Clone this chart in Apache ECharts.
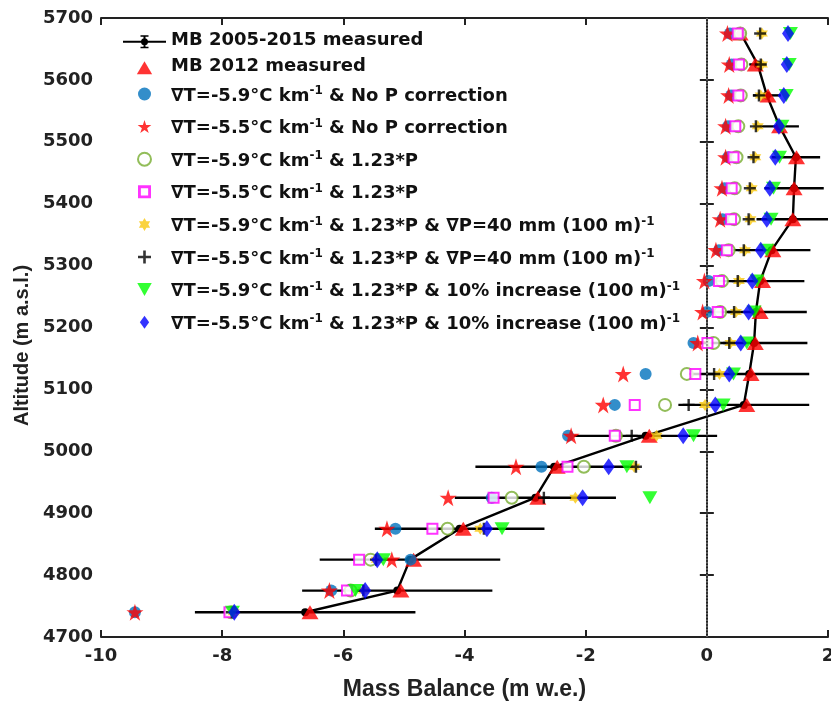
<!DOCTYPE html>
<html>
<head>
<meta charset="utf-8">
<title>Mass balance profile</title>
<script src="https://cdn.jsdelivr.net/npm/echarts@6/dist/echarts.min.js"></script>
<style>
  html, body { margin: 0; padding: 0; background: #fff; }
  #chart { width: 831px; height: 704px; }
</style>
</head>
<body>
<div id="chart"></div>
<script>
// altitude bands (m a.s.l.)
var altitude = [4740, 4775, 4825, 4875, 4925, 4975, 5025, 5075, 5125, 5175,
                5225, 5275, 5325, 5375, 5425, 5475, 5525, 5575, 5625, 5675];

// measured mass balance 2005-2015, mean and error (m w.e.)
var mbMean = [-6.63, -5.11, -4.90, -4.08, -2.83, -2.52, -1.01, 0.61, 0.70, 0.78,
              0.81, 0.88, 1.07, 1.42, 1.44, 1.47, 1.20, 0.99, 0.84, 0.56];
var mbErr = [1.82, 1.57, 1.49, 1.40, 1.33, 1.30, 1.18, 1.08, 0.99, 0.88,
             0.84, 0.73, 0.64, 0.60, 0.49, 0.40, 0.32, 0.23, 0.14, 0.08];

// measured 2012
var mb2012 = [-6.55, -5.05, -4.84, -4.02, -2.79, -2.47, -0.95, 0.66, 0.73, 0.80,
              0.88, 0.92, 1.09, 1.42, 1.44, 1.48, 1.20, 1.01, 0.80, 0.55];

// modelled runs
var t59NoP = [-9.44, -6.20, -4.89, -5.14, -3.55, -2.73, -2.29, -1.52, -1.01, -0.22,
              0.00, 0.03, 0.20, 0.26, 0.29, 0.35, 0.35, 0.40, 0.41, 0.38];
var t55NoP = [-9.44, -6.23, -5.20, -5.28, -4.27, -3.15, -2.24, -1.71, -1.38, -0.15,
              -0.07, -0.04, 0.15, 0.22, 0.25, 0.31, 0.31, 0.36, 0.37, 0.34];
var t59P = [-7.85, -5.88, -5.55, -4.28, -3.22, -2.03, -1.50, -0.69, -0.33, 0.11,
            0.22, 0.25, 0.36, 0.45, 0.46, 0.49, 0.52, 0.56, 0.57, 0.55];
var t55P = [-7.88, -5.94, -5.74, -4.53, -3.52, -2.30, -1.52, -1.19, -0.19, 0.01,
            0.18, 0.20, 0.33, 0.40, 0.41, 0.44, 0.47, 0.52, 0.53, 0.51];
var t59Grad = [-7.81, -5.66, -5.45, -3.74, -2.17, -1.20, -0.83, -0.03, 0.21, 0.39,
               0.48, 0.53, 0.63, 0.72, 0.74, 0.80, 0.84, 0.89, 0.91, 0.91];
var t55Grad = [-7.84, -5.67, -5.46, -3.68, -2.69, -1.17, -1.24, -0.30, 0.12, 0.37,
               0.45, 0.51, 0.61, 0.69, 0.71, 0.77, 0.81, 0.86, 0.89, 0.88];
var t59Inc = [-7.83, -5.80, -5.34, -3.38, -0.94, -1.32, -0.22, 0.27, 0.44, 0.66,
              0.78, 0.83, 0.99, 1.06, 1.10, 1.20, 1.24, 1.31, 1.36, 1.38];
var t55Inc = [-7.80, -5.64, -5.44, -3.63, -2.05, -1.62, -0.39, 0.14, 0.37, 0.56,
              0.69, 0.75, 0.89, 0.99, 1.04, 1.13, 1.19, 1.27, 1.32, 1.34];

// axis ticks
var xTicks = [-10, -8, -6, -4, -2, 0, 2];
var yTicks = [4700, 4800, 4900, 5000, 5100, 5200, 5300, 5400, 5500, 5600, 5700];

var names = [
  'MB 2005-2015 measured',
  'MB 2012 measured',
  '∇T=-5.9°C km⁻¹ & No P correction',
  '∇T=-5.5°C km⁻¹ & No P correction',
  '∇T=-5.9°C km⁻¹ & 1.23*P',
  '∇T=-5.5°C km⁻¹ & 1.23*P',
  '∇T=-5.9°C km⁻¹ & 1.23*P & ∇P=40 mm (100 m)⁻¹',
  '∇T=-5.5°C km⁻¹ & 1.23*P & ∇P=40 mm (100 m)⁻¹',
  '∇T=-5.9°C km⁻¹ & 1.23*P & 10% increase (100 m)⁻¹',
  '∇T=-5.5°C km⁻¹ & 1.23*P & 10% increase (100 m)⁻¹'
];

(function (window, doc) {

  var FONT = 'DejaVu Sans';

  // marker shapes
  var STAR = 'path://M10 0 L12.245 6.91 L19.511 6.91 L13.633 11.18 L15.878 18.09 L10 13.82 L4.122 18.09 L6.367 11.18 L0.489 6.91 L7.755 6.91 Z';
  var HEXA = 'path://M10 0 L12.887 5 L18.66 5 L15.77 10 L18.66 15 L12.887 15 L10 20 L7.113 15 L1.34 15 L4.23 10 L1.34 5 L7.113 5 Z';
  var PLUS = 'path://M4 0 H6 V4 H10 V6 H6 V10 H4 V6 H0 V4 H4 Z';
  var DOWN = 'path://M0 0 L10 0 L5 9 Z';
  // legend-only icons (paths keep their aspect in the legend box)
  var UP = 'path://M5 0 L10 8.5 L0 8.5 Z';
  var BOX = 'path://M0 0 H10 V10 H0 Z M2.2 2.2 V7.8 H7.8 V2.2 Z';
  var DIAM = 'path://M5 0 L10 7 L5 14 L0 7 Z';
  // legend icon: line + dot + vertical error bar
  var EBAR = 'path://M0 5.5 H43 V7.5 H0 Z M20.5 0 H22.5 V13 H20.5 Z M17.5 0 H25.5 V1.5 H17.5 Z M17.5 11.5 H25.5 V13 H17.5 Z M25 6.5 A3.5 3.5 0 1 1 18 6.5 A3.5 3.5 0 1 1 25 6.5 Z';

  function pairs(xs) {
    return xs.map(function (v, i) { return [v, altitude[i]]; });
  }

  function richName(name) {
    var parts = name.split('⁻¹');
    if (parts.length === 1) return '{p|' + name + '}';
    return parts.map(function (s) { return s ? '{t|' + s + '}' : ''; }).join('{sup|-1}');
  }

  function scatter(name, data, symbol, size, color, extra) {
    var s = {
      name: name,
      type: 'scatter',
      data: pairs(data),
      symbol: symbol,
      symbolSize: size,
      itemStyle: { color: color },
      z: 3
    };
    if (extra) {
      for (var k in extra) s.itemStyle[k] = extra[k];
    }
    return s;
  }

  var errData = altitude.map(function (a, i) {
    return [mbMean[i] - mbErr[i], mbMean[i] + mbErr[i], a];
  });

  var axisLine = { show: true, lineStyle: { color: '#222', width: 2 } };
  var axisTick = { show: true, inside: true, length: 7, lineStyle: { color: '#222', width: 2 } };
  var tickLabel = {
    color: '#222', fontFamily: FONT, fontWeight: 'bold', fontSize: 18,
    formatter: function (v) { return String(v); }
  };

  var chart = echarts.init(doc.getElementById('chart'));

  chart.setOption({
    animation: false,
    backgroundColor: '#fff',
    grid: { left: 101, right: 3, top: 18, bottom: 67, outerBoundsMode: 'none' },
    xAxis: [{
      type: 'value',
      min: xTicks[0],
      max: xTicks[xTicks.length - 1],
      interval: xTicks[1] - xTicks[0],
      name: 'Mass Balance (m w.e.)',
      nameLocation: 'middle',
      nameGap: 41,
      nameTextStyle: { color: '#222', fontFamily: 'Liberation Sans', fontWeight: 'bold', fontSize: 23 },
      axisLine: axisLine,
      axisTick: axisTick,
      axisLabel: Object.assign({ margin: 10 }, tickLabel),
      splitLine: { show: false }
    }, {
      type: 'value',
      position: 'top',
      min: xTicks[0],
      max: xTicks[xTicks.length - 1],
      interval: xTicks[1] - xTicks[0],
      axisLine: axisLine,
      axisTick: axisTick,
      axisLabel: { show: false },
      splitLine: { show: false }
    }],
    yAxis: [{
      type: 'value',
      min: yTicks[0],
      max: yTicks[yTicks.length - 1],
      interval: yTicks[1] - yTicks[0],
      name: 'Altitude (m a.s.l.)',
      nameLocation: 'middle',
      nameGap: 58,
      nameTextStyle: {
        color: '#222', fontFamily: 'Liberation Sans', fontWeight: 'bold', fontSize: 20,
        padding: [0, 36, 0, 0]
      },
      axisLine: axisLine,
      axisTick: axisTick,
      axisLabel: Object.assign({ margin: 8 }, tickLabel),
      splitLine: { show: false }
    }, {
      type: 'value',
      position: 'right',
      min: yTicks[0],
      max: yTicks[yTicks.length - 1],
      interval: yTicks[1] - yTicks[0],
      axisLine: axisLine,
      axisTick: axisTick,
      axisLabel: { show: false },
      splitLine: { show: false }
    }],
    legend: {
      orient: 'vertical',
      left: 123,
      top: 31,
      padding: 0,
      itemGap: 4.6,
      itemWidth: 43,
      itemHeight: 13,
      data: [
        { name: names[0], icon: EBAR },
        { name: names[1], icon: UP },
        names[2], names[3], names[4],
        { name: names[5], icon: BOX },
        names[6], names[7], names[8],
        { name: names[9], icon: DIAM }
      ],
      formatter: richName,
      textStyle: {
        color: '#111',
        rich: {
          p: { fontFamily: FONT, fontWeight: 'bold', fontSize: 18, lineHeight: 22, color: '#111', padding: [0, 0, 3.4, 0] },
          t: { fontFamily: FONT, fontWeight: 'bold', fontSize: 18, lineHeight: 22, color: '#111', verticalAlign: 'bottom' },
          sup: { fontFamily: FONT, fontWeight: 'bold', fontSize: 12, lineHeight: 12, color: '#111', padding: [2, 0, 14, 0], verticalAlign: 'top' }
        }
      }
    },
    series: [
      {
        name: names[0],
        type: 'custom',
        data: errData,
        encode: { x: [0, 1], y: 2 },
        itemStyle: { color: '#000' },
        z: 2,
        renderItem: function (params, api) {
          var lo = api.coord([api.value(0), api.value(2)]);
          var hi = api.coord([api.value(1), api.value(2)]);
          var cs = params.coordSys;
          var rect = echarts.graphic.clipRectByRect(
            { x: lo[0], y: lo[1] - 1.2, width: hi[0] - lo[0], height: 2.4 },
            { x: cs.x, y: cs.y, width: cs.width, height: cs.height }
          );
          if (!rect) return;
          return { type: 'rect', shape: rect, style: { fill: '#000' } };
        }
      },
      {
        name: names[0],
        type: 'line',
        data: pairs(mbMean),
        symbol: 'circle',
        symbolSize: 8,
        itemStyle: { color: '#000' },
        lineStyle: { color: '#000', width: 2.4 },
        z: 2,
        markLine: {
          silent: true,
          symbol: ['none', 'none'],
          label: { show: false },
          lineStyle: { color: '#777', type: 'dotted', width: 1.6 },
          data: [{ xAxis: 0 }]
        }
      },
      scatter(names[1], mb2012, 'triangle', [17, 14], '#FF0000'),
      scatter(names[2], t59NoP, 'circle', 12, '#0072BD'),
      scatter(names[3], t55NoP, STAR, 17, '#FF0000'),
      scatter(names[4], t59P, 'emptyCircle', 12, '#77AC30', { borderWidth: 2 }),
      scatter(names[5], t55P, 'emptyRect', 10, '#FF00FF', { borderWidth: 2 }),
      scatter(names[6], t59Grad, HEXA, 12, '#F9C80E'),
      scatter(names[7], t55Grad, PLUS, 12, '#000000'),
      scatter(names[8], t59Inc, DOWN, [15, 13], '#00FF00'),
      scatter(names[9], t55Inc, 'diamond', [12, 17], '#0000FF')
    ]
  });

}(window, document));
</script>
</body>
</html>
